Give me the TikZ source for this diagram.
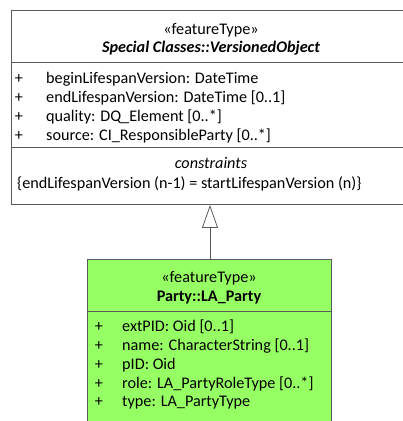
\documentclass[tikz,border=0pt]{standalone}
\usepackage{fontspec}
\setmainfont{Carlito}
\usetikzlibrary{arrows.meta}

\definecolor{partygreen}{RGB}{150,255,100}
\definecolor{umlline}{RGB}{90,90,90}

\begin{document}
\begin{tikzpicture}[x=1pt, y=-1pt,
  umlbox/.style={rectangle, draw=umlline, line width=0.9pt, anchor=north west, inner sep=0pt},
  txt/.style={inner sep=0pt, anchor=base, font=\fontsize{16.2}{19}\selectfont},
  attr/.style={txt, anchor=base west},
  gen/.style={draw=umlline, line width=0.8pt, -{Triangle[open, length=23pt, width=16pt, fill=white]}}
]
\useasboundingbox (0,0) rectangle (403,421);

% boxes
\node[umlbox, fill=white, minimum width=400.5pt, minimum height=194pt] (vobj) at (10.5,10) {};
\node[umlbox, fill=partygreen, minimum width=244pt, minimum height=180pt] (party) at (87,259) {};

% compartment lines
\draw[umlline, line width=0.9pt] (vobj.west |- 0,62) -- (vobj.east |- 0,62);
\draw[umlline, line width=0.9pt] (vobj.west |- 0,147) -- (vobj.east |- 0,147);
\draw[umlline, line width=0.9pt] (party.west |- 0,311) -- (party.east |- 0,311);

% VersionedObject
\node[txt] (vstereo) at (211,34) {«featureType»};
\node[txt] (vname)   at (211,52) {\bfseries\itshape Special Classes::VersionedObject};

\node[txt] (vp1) at (19,83)    {+};
\node[txt] (vp2) at (19,102)   {+};
\node[txt] (vp3) at (19,121.5) {+};
\node[txt] (vp4) at (19,140.5) {+};
\node[attr] (va1) at (46,83)    {beginLifespanVersion: DateTime};
\node[attr] (va2) at (46,102)   {endLifespanVersion: DateTime [0..1]};
\node[attr] (va3) at (46,121.5) {quality: DQ\_Element [0..*]};
\node[attr] (va4) at (46,140.5) {source: CI\_ResponsibleParty [0..*]};

\node[txt]  (vchead) at (211,168) {\itshape constraints};
\node[attr] (vcons)  at (17,188)  {\{endLifespanVersion (n-1) = startLifespanVersion (n)\}};

% LA_Party
\node[txt] (pstereo) at (209,282) {«featureType»};
\node[txt] (pname)   at (209,301) {\bfseries Party::LA\_Party};

\node[txt] (pp1) at (99,331) {+};
\node[txt] (pp2) at (99,350) {+};
\node[txt] (pp3) at (99,369) {+};
\node[txt] (pp4) at (99,388) {+};
\node[txt] (pp5) at (99,406) {+};
\node[attr] (pa1) at (122,331) {extPID: Oid [0..1]};
\node[attr] (pa2) at (122,350) {name: CharacterString [0..1]};
\node[attr] (pa3) at (122,369) {pID: Oid};
\node[attr] (pa4) at (122,388) {role: LA\_PartyRoleType [0..*]};
\node[attr] (pa5) at (122,406) {type: LA\_PartyType};

% generalization
\draw[gen] (party.north -| 210,0) -- (vobj.south -| 210,0);

\end{tikzpicture}
\end{document}
